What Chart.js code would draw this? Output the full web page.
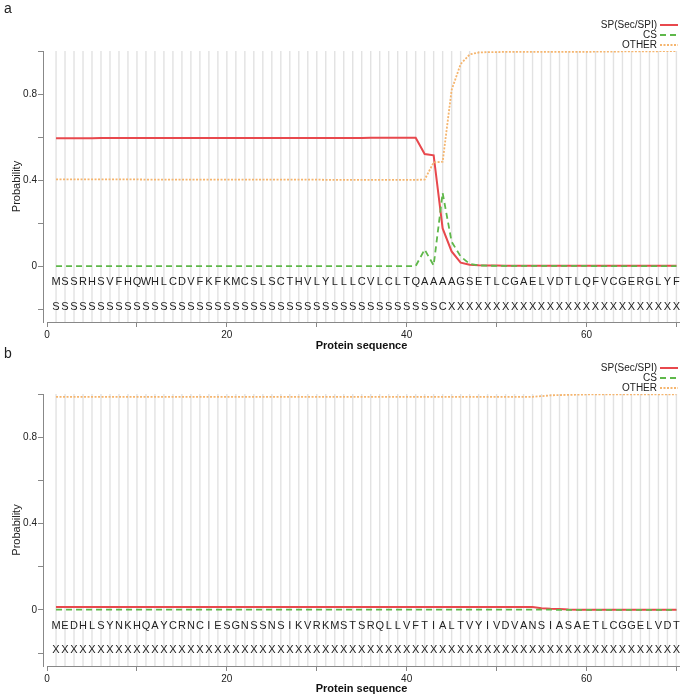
<!DOCTYPE html>
<html>
<head>
<meta charset="utf-8">
<script src="https://cdn.jsdelivr.net/npm/chart.js@4.4.0/dist/chart.umd.min.js"></script>
<style>
body { margin: 0; background: #fff; width: 685px; height: 696px; position: relative; overflow: hidden; font-family: "Liberation Sans", Arial, sans-serif; }
.panel { position: absolute; left: 0; width: 685px; }
.tag { position: absolute; left: 4px; font-size: 14px; color: #222; }
</style>
</head>
<body>
<div class="panel" style="top:0;height:353px"><canvas id="chartA"></canvas></div>
<div class="panel" style="top:353px;height:343px"><canvas id="chartB"></canvas></div>
<div class="tag" style="top:0">a</div>
<div class="tag" style="top:345px">b</div>
<script>
// residues and per-residue labels
const seqA = 'MSSRHSVFHQWHLCDVFKFKMCSLSCTHVLYLLLCVLCLTQAAAAGSETLCGAELVDTLQFVCGERGLYF'.split('');
const labelA = 'SSSSSSSSSSSSSSSSSSSSSSSSSSSSSSSSSSSSSSSSSSSCXXXXXXXXXXXXXXXXXXXXXXXXXX'.split('');
const seqB = 'MEDHLSYNKHQAYCRNCIESGNSSNSIKVRKMSTSRQLLVFTIALTVYIVDVANSIASAETLCGGELVDT'.split('');
const labelB = 'XXXXXXXXXXXXXXXXXXXXXXXXXXXXXXXXXXXXXXXXXXXXXXXXXXXXXXXXXXXXXXXXXXXXXX'.split('');

// panel a probabilities
const spA = [0.594,0.594,0.594,0.594,0.594,0.595,0.595,0.595,0.595,0.595,
  0.595,0.595,0.595,0.595,0.595,0.595,0.595,0.595,0.595,0.595,
  0.596,0.596,0.596,0.596,0.596,0.596,0.596,0.596,0.596,0.596,
  0.596,0.596,0.596,0.596,0.596,0.597,0.597,0.597,0.597,0.597,
  0.597,0.521,0.515,0.175,0.068,0.016,0.006,0.004,0.003,0.003,
  0.002,0.002,0.002,0.002,0.002,0.002,0.002,0.002,0.002,0.002,
  0.001,0.001,0.001,0.001,0.001,0.001,0.001,0.001,0.001,0.001];
const csA = [0,0,0,0,0,0,0,0,0,0,
  0,0,0,0,0,0,0,0,0,0,
  0,0,0,0,0,0,0,0,0,0,
  0,0,0,0,0,0,0,0,0,0,
  0,0.077,0.003,0.340,0.113,0.045,0.010,0.003,0.002,0.001,
  0.001,0.001,0.001,0.001,0.001,0.001,0.001,0.001,0.001,0.001,
  0,0,0,0,0,0,0,0,0,0];
const otherA = [0.403,0.403,0.403,0.403,0.403,0.403,0.403,0.403,0.403,0.403,
  0.402,0.402,0.402,0.402,0.402,0.402,0.402,0.402,0.402,0.402,
  0.402,0.402,0.402,0.402,0.402,0.402,0.402,0.402,0.402,0.402,
  0.401,0.401,0.401,0.401,0.401,0.401,0.401,0.401,0.401,0.401,
  0.401,0.402,0.482,0.485,0.819,0.939,0.984,0.993,0.995,0.995,
  0.996,0.996,0.996,0.996,0.996,0.996,0.996,0.996,0.996,0.996,
  0.997,0.997,0.997,0.998,0.998,0.998,0.998,0.999,0.999,0.999];

// panel b probabilities
const spB = [0.013,0.013,0.013,0.013,0.013,0.013,0.013,0.013,0.013,0.013,
  0.013,0.013,0.013,0.013,0.013,0.013,0.013,0.013,0.013,0.013,
  0.013,0.013,0.013,0.013,0.013,0.013,0.013,0.013,0.013,0.013,
  0.013,0.013,0.013,0.013,0.013,0.013,0.013,0.013,0.013,0.013,
  0.013,0.013,0.013,0.013,0.013,0.013,0.013,0.013,0.013,0.013,
  0.013,0.013,0.013,0.013,0.008,0.005,0.004,0.002,0.001,0,
  0,0,0,0,0,0,0,0,0,0];
const csB = [0.001,0.001,0.001,0.001,0.001,0.001,0.001,0.001,0.001,0.001,
  0.001,0.001,0.001,0.001,0.001,0.001,0.001,0.001,0.001,0.001,
  0.001,0.001,0.001,0.001,0.001,0.001,0.001,0.001,0.001,0.001,
  0.001,0.001,0.001,0.001,0.001,0.001,0.001,0.001,0.001,0.001,
  0.001,0.001,0.001,0.001,0.001,0.001,0.001,0.001,0.001,0.001,
  0.001,0.001,0.001,0.001,0.001,0.001,0,0,0,0,
  0,0,0,0,0,0,0,0,0,0];
const otherB = [0.987,0.987,0.987,0.987,0.987,0.987,0.987,0.987,0.987,0.987,
  0.987,0.987,0.987,0.987,0.987,0.987,0.987,0.987,0.987,0.987,
  0.987,0.987,0.987,0.987,0.987,0.987,0.987,0.987,0.987,0.987,
  0.987,0.987,0.987,0.987,0.987,0.987,0.987,0.987,0.987,0.987,
  0.987,0.987,0.987,0.987,0.987,0.987,0.987,0.987,0.987,0.987,
  0.987,0.987,0.987,0.987,0.990,0.994,0.995,0.996,0.997,0.998,
  0.998,0.998,0.998,0.998,0.998,0.998,0.998,0.998,0.998,0.998];

const seriesNames = ['SP(Sec/SPI)', 'CS', 'OTHER'];
const xTicks = [0, 10, 20, 30, 40, 50, 60, 70];
const xTickLabels = [0, 20, 40, 60];
const yTicks = [-0.2, 0, 0.2, 0.4, 0.6, 0.8, 1.0];
const yTickLabels = [0, 0.4, 0.8];
const seqRowY = [-0.075, -0.188];

const FONT = '"Liberation Sans", Arial, sans-serif';

// grey column per residue behind the lines, residue rows and legend on top
const columnPlugin = {
  id: 'columns',
  beforeDatasetsDraw(chart) {
    const ctx = chart.ctx, x = chart.scales.x, area = chart.chartArea;
    ctx.save();
    ctx.strokeStyle = '#e2e2e2';
    ctx.lineWidth = 1.4;
    chart.$seq.forEach((c, i) => {
      const px = x.getPixelForValue(i + 1);
      ctx.beginPath();
      ctx.moveTo(px, area.top);
      ctx.lineTo(px, area.bottom);
      ctx.stroke();
    });
    ctx.restore();
  },
  afterDatasetsDraw(chart) {
    const ctx = chart.ctx, x = chart.scales.x, y = chart.scales.y, area = chart.chartArea;
    ctx.save();
    // x axis line starts at 0, not at the plot edge
    ctx.strokeStyle = '#888';
    ctx.lineWidth = 1;
    ctx.beginPath();
    ctx.moveTo(x.getPixelForValue(0), area.bottom + 0.5);
    ctx.lineTo(area.right, area.bottom + 0.5);
    ctx.stroke();

    ctx.fillStyle = '#222';
    ctx.font = '11px ' + FONT;
    ctx.textAlign = 'center';
    ctx.textBaseline = 'middle';
    chart.$seq.forEach((c, i) => {
      ctx.fillText(c, x.getPixelForValue(i + 1), y.getPixelForValue(seqRowY[0]));
    });
    chart.$lab.forEach((c, i) => {
      ctx.fillText(c, x.getPixelForValue(i + 1), y.getPixelForValue(seqRowY[1]));
    });

    ctx.font = '10px ' + FONT;
    ctx.textAlign = 'right';
    chart.data.datasets.forEach((ds, i) => {
      const ly = area.top - 26 + i * 10;
      ctx.fillStyle = '#222';
      ctx.fillText(ds.label, area.right - 23, ly);
      ctx.strokeStyle = ds.borderColor;
      ctx.lineWidth = ds.borderWidth;
      ctx.setLineDash(ds.borderDash || []);
      ctx.beginPath();
      ctx.moveTo(area.right - 20, ly);
      ctx.lineTo(area.right - 2, ly);
      ctx.stroke();
      ctx.setLineDash([]);
    });
    ctx.restore();
  }
};

function makeChart(id, seq, lab, sp, cs, other, topPad, axisH) {
  const pts = arr => arr.map((v, i) => ({ x: i + 1, y: v }));
  const chart = new Chart(document.getElementById(id), {
    type: 'line',
    data: {
      datasets: [
        { label: seriesNames[0], data: pts(sp), borderColor: '#e8484d', borderWidth: 2, order: 3 },
        { label: seriesNames[1], data: pts(cs), borderColor: '#5fb84a', borderWidth: 1.8, borderDash: [6, 4], order: 2 },
        { label: seriesNames[2], data: pts(other), borderColor: '#f5b56e', borderWidth: 1.8, borderDash: [2, 1.5], order: 1 }
      ]
    },
    options: {
      responsive: true,
      maintainAspectRatio: false,
      animation: false,
      events: [],
      elements: { point: { radius: 0 }, line: { tension: 0 } },
      layout: { padding: { top: topPad, right: 5, left: 0, bottom: 0 } },
      plugins: { legend: { display: false }, tooltip: { enabled: false } },
      scales: {
        x: {
          type: 'linear',
          min: -0.45,
          max: 70.4,
          afterBuildTicks: s => { s.ticks = xTicks.map(v => ({ value: v })); },
          afterFit: s => { s.height = axisH; },
          border: { display: false },
          grid: { drawOnChartArea: false, drawTicks: true, tickLength: 5, color: '#888' },
          ticks: {
            autoSkip: false, maxRotation: 0, padding: 2, color: '#222',
            font: { size: 10, family: FONT },
            callback: v => xTickLabels.includes(v) ? String(v) : ''
          },
          title: { display: true, text: 'Protein sequence', color: '#111', padding: 0, font: { size: 11, weight: 'bold', family: FONT } }
        },
        y: {
          min: -0.26,
          max: 1.0,
          afterBuildTicks: s => { s.ticks = yTicks.map(v => ({ value: v })); },
          afterFit: s => { s.width = 43; },
          border: { display: true, color: '#888' },
          grid: { drawOnChartArea: false, drawTicks: true, tickLength: 5, color: '#888' },
          ticks: {
            padding: 1, color: '#222',
            font: { size: 10, family: FONT },
            callback: v => yTickLabels.includes(v) ? String(v) : ''
          },
          title: { display: true, text: 'Probability', color: '#222', padding: { top: 10, bottom: 0 }, font: { size: 11, family: FONT } }
        }
      }
    },
    plugins: [columnPlugin]
  });
  return chart;
}

// attach the residue rows before the first draw
Chart.register({
  id: 'seqRows',
  beforeInit(chart) {
    const isA = chart.canvas.id === 'chartA';
    chart.$seq = isA ? seqA : seqB;
    chart.$lab = isA ? labelA : labelB;
  }
});

makeChart('chartA', seqA, labelA, spA, csA, otherA, 51, 31);
makeChart('chartB', seqB, labelB, spB, csB, otherB, 41, 30);
</script>
</body>
</html>
